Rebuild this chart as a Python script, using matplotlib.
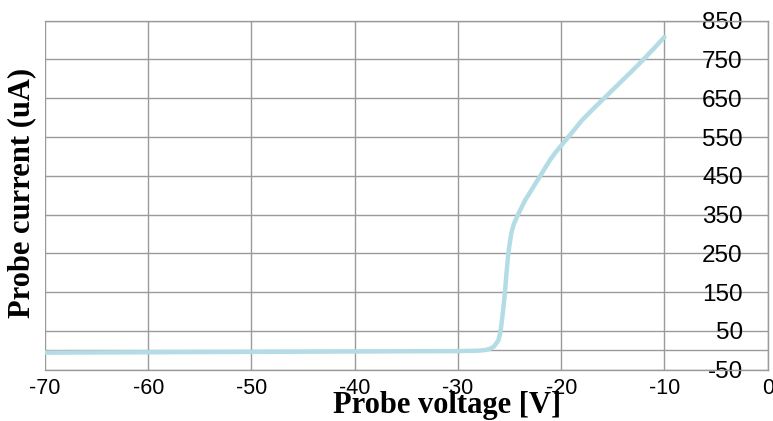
import matplotlib
matplotlib.use("Agg")
import matplotlib.pyplot as plt

plt.rcParams["axes.unicode_minus"] = False

# Data
voltage = [-70, -60, -50, -40, -30, -28, -27.3, -26.9, -26.5, -26.1, -25.9, -25.75,
           -25.6, -25.45, -25.3, -25.1, -24.85, -24.6, -24.3, -24.0, -23.5, -23.0,
           -22.5, -22.0, -21.5, -21.0, -20.5, -20.0, -19.0, -18.0, -17.0, -16.0,
           -15.0, -14.0, -13.0, -12.0, -11.0, -10.0]
current = [-6, -5, -4, -3, -2, -1, 1, 4, 10, 25, 45, 75,
           110, 150, 200, 255, 300, 325, 343, 360, 387, 408,
           430, 451, 473, 494, 512, 528, 560, 593, 620, 646,
           672, 698, 724, 751, 779, 808]

x_ticks = [-70, -60, -50, -40, -30, -20, -10, 0]
y_ticks = [-50, 50, 150, 250, 350, 450, 550, 650, 750, 850]

fig = plt.figure(figsize=(7.73, 4.21), dpi=100)
ax = fig.add_axes([45 / 773, 1 - 369.7 / 421, (767.7 - 45) / 773, (369.7 - 20.7) / 421])

grid_col = "#9a9a9a"
ax.plot(voltage, current, color="#b3dce5", lw=3.2, solid_capstyle="round",
        solid_joinstyle="round", zorder=3)

ax.set_xlim(-70, 0)
ax.set_ylim(-50, 850)
ax.set_xticks(x_ticks)
ax.set_yticks(y_ticks)
ax.grid(True, color=grid_col, lw=1.0, zorder=0)
ax.set_axisbelow(True)
ax.axhline(0, color=grid_col, lw=1.0, zorder=1)

for s in ["top", "right", "bottom"]:
    ax.spines[s].set_color(grid_col)
    ax.spines[s].set_linewidth(1.0)
ax.spines["left"].set_position(("data", 0))
ax.spines["left"].set_visible(False)

ax.tick_params(axis="both", length=0)
ax.tick_params(axis="y", pad=18)
ax.tick_params(axis="x", pad=6)
for lab in ax.get_xticklabels():
    lab.set_fontfamily("Liberation Sans")
    lab.set_fontsize(15.5)
    lab.set_clip_on(False)
for lab in ax.get_yticklabels():
    lab.set_fontfamily("Liberation Sans")
    lab.set_fontsize(17.5)

fig.text(447 / 773, 1 - 413 / 421, "Probe voltage [V]", ha="center", va="baseline",
         fontfamily="Liberation Serif", fontweight="bold", fontsize=22)
fig.text(22 / 773, 1 - 193 / 421, "Probe current (uA)", ha="center", va="center",
         rotation=90, fontfamily="Liberation Serif", fontweight="bold", fontsize=22)

fig.savefig("out.png", dpi=100)
